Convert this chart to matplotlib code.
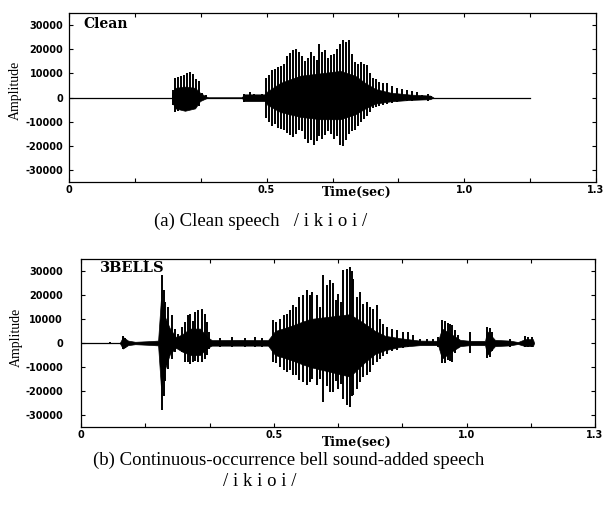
"""Two speech waveforms (clean vs. bell-added) redrawn from peak readings."""

import matplotlib

matplotlib.use("Agg")
import matplotlib.pyplot as plt  # noqa: E402

plt.rcParams["axes.unicode_minus"] = False

# ---- panel (a): clean speech -------------------------------------------
clean_end = 1.138
clean_core_t = [0.254, 0.262, 0.286, 0.311, 0.323, 0.336, 0.343,
                0.427, 0.430, 0.484, 0.489, 0.521, 0.570, 0.620, 0.669,
                0.706, 0.731, 0.756, 0.793, 0.842, 0.891, 0.899]
clean_core_hi = [1500, 4000, 4500, 4000, 2000, 600, 0,
                 0, 1300, 1300, 2500, 6000, 9000, 10000, 11000,
                 9000, 6000, 3500, 2000, 1200, 800, 0]
clean_core_lo = [-1500, -4500, -5500, -4500, -1500, -500, 0,
                 0, -1500, -1500, -3000, -6000, -8000, -9000, -9000,
                 -7000, -4500, -2500, -1600, -1000, -700, 0]
clean_spk_t = [0.257, 0.262, 0.269, 0.277, 0.284, 0.291, 0.299, 0.306, 0.314, 0.321,
               0.328, 0.338, 0.432, 0.440, 0.447, 0.457, 0.467, 0.477,
               0.486, 0.494, 0.501, 0.509, 0.516, 0.523, 0.531, 0.538, 0.546, 0.553,
               0.560, 0.568, 0.575, 0.583, 0.590, 0.598, 0.605, 0.612, 0.617, 0.625,
               0.632, 0.640, 0.647, 0.654, 0.662, 0.669, 0.677, 0.684, 0.691, 0.699,
               0.706, 0.714, 0.721, 0.728, 0.736, 0.743, 0.751, 0.758, 0.765, 0.775,
               0.785, 0.798, 0.810, 0.822, 0.835, 0.847, 0.859, 0.872, 0.886, 0.894]
clean_spk_hi = [3000, 8200, 8500, 9000, 9500, 10300, 10500, 9900, 7800, 7000,
                2000, 1000, 1500, 1200, 2200, 1500, 1200, 1300,
                8000, 9500, 11500, 12000, 12500, 13000, 14000, 17000, 18500, 19500,
                20000, 19000, 17000, 15000, 16500, 19000, 17000, 15500, 22000, 19000,
                19500, 16500, 17500, 18000, 20000, 22000, 24000, 23000, 24000, 18000,
                14500, 14000, 14500, 14000, 13500, 10000, 8000, 7800, 6500, 6200,
                5800, 4900, 4100, 3700, 3300, 2500, 2400, 1000, 1500, 800]
clean_spk_lo = [-3000, -6200, -5500, -5000, -5000, -4800, -4500, -4500, -4000, -3500,
                -1200, -600, -1800, -1500, -1300, -1500, -1200, -1300,
                -8500, -10000, -12000, -11000, -12500, -13000, -13500, -14500, -15500, -16500,
                -15000, -13500, -14000, -17000, -19000, -17500, -19500, -18000, -16000, -17000,
                -15500, -14000, -15000, -17000, -16000, -19500, -20000, -17500, -15000, -14000,
                -13500, -12000, -10000, -9000, -7500, -6000, -4500, -4000, -3500, -3000,
                -2500, -2200, -1800, -1600, -1500, -1300, -1200, -800, -1500, -800]

# ---- panel (b): speech + bell sounds -------------------------------------
bells_end = 1.143
bells_core_t = [0.099, 0.106, 0.119, 0.137, 0.175, 0.195, 0.202, 0.212, 0.225, 0.240,
                0.255, 0.276, 0.301, 0.319, 0.331, 0.402, 0.473, 0.491, 0.529, 0.579,
                0.630, 0.680, 0.718, 0.744, 0.769, 0.807, 0.857, 0.903, 0.913, 0.938,
                0.959, 0.984, 1.022, 1.027, 1.047, 1.085, 1.105, 1.123, 1.143, 1.146]
bells_core_hi = [300, 2500, 1000, 500, 800, 1000, 18000, 11000, 6000, 2500,
                 3500, 6000, 6000, 2500, 1200, 1300, 1200, 5000, 7000, 10000,
                 11000, 12000, 8000, 5000, 3000, 2000, 1000, 900, 6000, 3500,
                 1300, 900, 900, 5000, 1300, 1000, 400, 1600, 1600, 0]
bells_core_lo = [-300, -2300, -900, -500, -800, -1000, -18000, -11000, -4500, -2000,
                 -3500, -5000, -5000, -2000, -1100, -1100, -1100, -5000, -7000, -10000,
                 -12000, -14000, -8000, -4500, -3000, -1600, -900, -900, -6500, -3500,
                 -1300, -900, -900, -5000, -1300, -1000, -400, -1300, -1300, 0]
bells_spk_t = [0.073, 0.106, 0.111, 0.205, 0.209, 0.212, 0.220, 0.230, 0.238, 0.245,
               0.255, 0.263, 0.271, 0.276, 0.283, 0.288, 0.296, 0.306, 0.314, 0.319,
               0.324, 0.352, 0.382, 0.415, 0.440, 0.458, 0.486, 0.493, 0.503, 0.513,
               0.521, 0.529, 0.536, 0.544, 0.551, 0.561, 0.572, 0.579, 0.584, 0.597,
               0.604, 0.612, 0.622, 0.630, 0.637, 0.645, 0.650, 0.658, 0.663, 0.673,
               0.680, 0.685, 0.688, 0.698, 0.706, 0.713, 0.723, 0.731, 0.738, 0.749,
               0.756, 0.764, 0.774, 0.787, 0.799, 0.814, 0.827, 0.840, 0.857, 0.875,
               0.890, 0.903, 0.913, 0.921, 0.928, 0.933, 0.938, 0.946, 0.953, 0.984,
               1.027, 1.034, 1.039, 1.085, 1.123, 1.131, 1.141]
bells_spk_hi = [600, 2900, 2200, 28300, 22000, 17000, 15000, 11700, 5800, 3700,
                6700, 8700, 11700, 12000, 9000, 12900, 13700, 14100, 12000, 8700,
                4600, 2000, 2500, 2200, 2500, 2000, 9600, 8700, 10000, 11700,
                12000, 13700, 15800, 15000, 19200, 20000, 22000, 20000, 21200, 20000,
                15000, 28300, 24200, 26200, 25000, 18000, 20400, 17000, 30400, 30800,
                31700, 30000, 26700, 19200, 21200, 16200, 17000, 15000, 14000, 15800,
                10000, 7900, 6700, 5800, 5400, 4600, 4600, 3300, 1700, 1700,
                1500, 2500, 9600, 9000, 8300, 8000, 7500, 5400, 3300, 4600,
                6700, 6200, 4500, 1500, 2900, 2500, 2500]
bells_spk_lo = [-500, -2500, -2000, -28000, -22000, -16000, -11000, -6700, -3700, -2000,
                -3700, -8000, -8000, -8700, -8000, -7500, -8000, -8000, -6700, -5000,
                -2500, -1500, -1700, -1500, -1700, -1500, -8000, -8300, -10000, -11200,
                -12000, -11200, -13300, -13300, -15400, -16200, -17500, -16200, -15000, -17500,
                -15000, -24600, -18000, -20400, -20400, -16000, -19000, -17000, -23300, -25800,
                -26700, -22000, -21700, -19200, -16200, -14000, -13300, -12000, -9200, -8000,
                -6700, -5500, -4600, -3500, -2900, -2000, -1700, -1200, -1000, -1000,
                -1000, -1700, -8300, -8300, -7100, -7500, -7900, -4200, -2100, -4200,
                -6300, -6000, -3500, -1500, -1700, -1700, -1700]

y_ticks = [-30000, -20000, -10000, 0, 10000, 20000, 30000]
x_tick_labels = ["0", "", "", "0.5", "", "", "1.0", "", "1.3"]
X_MAX = 1.3

W, H = 606, 505
fig = plt.figure(figsize=(W / 100, H / 100), dpi=100)


def px(x, y):
    return x / W, 1 - y / H


def panel(rect, end, core_t, core_hi, core_lo, spk_t, spk_hi, spk_lo, ypad):
    ax = fig.add_axes(rect)
    ax.plot([0, end], [0, 0], color="black", lw=0.9)
    ax.fill_between(core_t, core_lo, core_hi, color="black", lw=0.5)
    ax.vlines(spk_t, spk_lo, spk_hi, color="black", lw=1.4)
    ax.set_xlim(0, X_MAX)
    ax.set_ylim(-35000, 35000)
    ax.set_xticks([X_MAX * k / 8 for k in range(9)])
    ax.set_xticklabels(x_tick_labels)
    ax.set_yticks(y_ticks)
    ax.tick_params(direction="in", length=3, width=0.8, top=True, right=True,
                   labelsize=7, pad=2)
    ax.tick_params(axis="y", pad=ypad)
    for lab in ax.get_xticklabels() + ax.get_yticklabels():
        lab.set_fontweight("bold")
    for s in ax.spines.values():
        s.set_linewidth(0.9)
    return ax


ax1 = panel([69 / W, 1 - 182 / H, 527 / W, 169 / H], clean_end,
            clean_core_t, clean_core_hi, clean_core_lo,
            clean_spk_t, clean_spk_hi, clean_spk_lo, 4)
ax2 = panel([81 / W, 1 - 427 / H, 514 / W, 168 / H], bells_end,
            bells_core_t, bells_core_hi, bells_core_lo,
            bells_spk_t, bells_spk_hi, bells_spk_lo, 13)

lbl = dict(family="DejaVu Serif", fontweight="bold")
fig.text(*px(83, 24), "Clean", fontsize=10, va="center", ha="left", **lbl)
fig.text(*px(100, 268), "3BELLS", fontsize=10.5, va="center", ha="left", **lbl)
fig.text(*px(357, 192), "Time(sec)", fontsize=9, va="center", ha="center", **lbl)
fig.text(*px(357, 442), "Time(sec)", fontsize=9, va="center", ha="center", **lbl)

amp = dict(family="Liberation Serif", fontsize=10, rotation=90, va="center", ha="center")
fig.text(*px(15, 90), "Amplitude", **amp)
fig.text(*px(16, 337), "Amplitude", **amp)

cap = dict(family="Liberation Serif", fontsize=13.5, va="center", ha="center")
fig.text(*px(261, 221), "(a) Clean speech   / i k i o i /", **cap)
fig.text(*px(289, 460), "(b) Continuous-occurrence bell sound-added speech", **cap)
fig.text(*px(260, 481), "/ i k i o i /", **cap)

fig.savefig("out.png", dpi=100)
